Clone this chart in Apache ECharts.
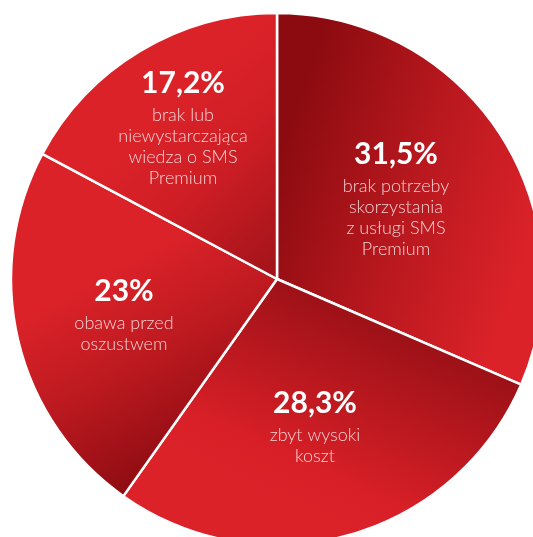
<!DOCTYPE html>
<html>
<head>
<meta charset="utf-8">
<script src="https://cdn.jsdelivr.net/npm/echarts@6/dist/echarts.min.js"></script>
<style>
  html, body { margin: 0; padding: 0; background: #ffffff; }
  #chart { width: 533px; height: 537px; }
</style>
</head>
<body>
<div id="chart"></div>
<script>
// Reasons for not using SMS Premium (share of answers, %)
const values = [31.5, 28.3, 23, 17.2];
const descriptions = [
  ['brak potrzeby', 'skorzystania', 'z usługi SMS', 'Premium'],
  ['zbyt wysoki', 'koszt'],
  ['obawa przed', 'oszustwem'],
  ['brak lub', 'niewystarczająca', 'wiedza o SMS', 'Premium']
];

// Layout: pie centre/radius and label block centres (px)
const CENTER = [277, 279];
const RADIUS = 266;
const LABEL_POS = [[396, 196], [315, 424], [124, 312], [183, 125]];

// Per-slice red shading (global pixel coordinates)
function grad(x, y, x2, y2, stops) {
  return {
    type: 'linear', x: x, y: y, x2: x2, y2: y2, global: true,
    colorStops: stops.map(s => ({ offset: s[0], color: s[1] }))
  };
}
const sliceFills = [
  grad(280, 150, 535, 240, [[0, '#8c0b10'], [0.5, '#b7181e'], [1, '#dc2229']]),
  grad(300, 285, 210, 480, [[0, '#9c1117'], [0.75, '#d81f27'], [1, '#dc2229']]),
  grad(70, 290, 170, 470, [[0, '#dc2229'], [0.45, '#bd1a20'], [1, '#8e0c12']]),
  grad(130, 130, 270, 280, [[0, '#dc2229'], [0.4, '#d01e25'], [1, '#a2131a']])
];

const fmtPct = v => String(v).replace('.', ',') + '%';

const data = values.map((v, i) => ({
  value: v,
  name: descriptions[i].join(' '),
  itemStyle: { color: sliceFills[i] },
  label: {
    formatter: '{p|' + fmtPct(v) + '}\n' + descriptions[i].map(l => '{d|' + l + '}').join('\n')
  }
}));

const chart = echarts.init(document.getElementById('chart'), null, { renderer: 'canvas' });
chart.setOption({
  animation: false,
  series: [{
    type: 'pie',
    center: CENTER,
    radius: RADIUS,
    startAngle: 90,
    clockwise: true,
    data: data,
    itemStyle: { borderColor: '#ffffff', borderWidth: 2.5 },
    emphasis: { scale: false },
    labelLine: { show: false },
    label: {
      show: true,
      position: 'inside',
      align: 'center',
      verticalAlign: 'middle',
      fontFamily: 'Lato',
      rich: {
        p: { fontFamily: 'Lato', fontWeight: 'bold', fontSize: 30, color: '#ffffff', lineHeight: 44, align: 'center' },
        d: { fontFamily: 'Lato', fontWeight: 300, fontSize: 18, color: 'rgba(255,255,255,0.8)', lineHeight: 21, align: 'center' }
      }
    },
    labelLayout: function (params) {
      const pos = LABEL_POS[params.dataIndex];
      return { x: pos[0], y: pos[1], align: 'center', verticalAlign: 'middle' };
    }
  }]
});
</script>
</body>
</html>
